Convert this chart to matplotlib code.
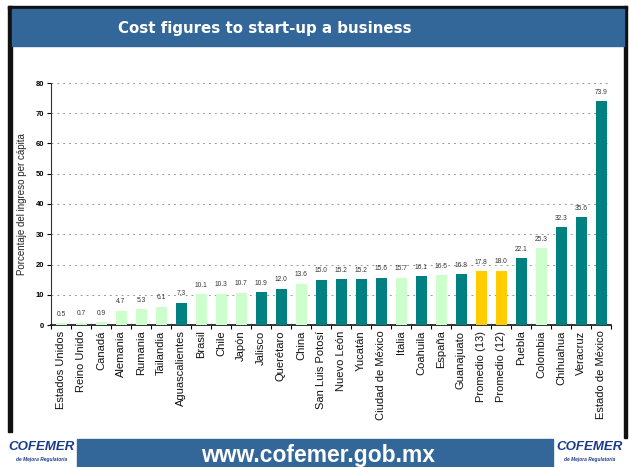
import matplotlib
matplotlib.use("Agg")
import matplotlib.pyplot as plt
from matplotlib.patches import Rectangle

categories = ["Estados Unidos", "Reino Unido", "Canadá", "Alemania", "Rumania", "Tailandia",
              "Aguascalientes", "Brasil", "Chile", "Japón", "Jalisco", "Querétaro", "China",
              "San Luis Potosí", "Nuevo León", "Yucatán", "Ciudad de México", "Italia",
              "Coahuila", "España", "Guanajuato", "Promedio (13)", "Promedio (12)", "Puebla",
              "Colombia", "Chihuahua", "Veracruz", "Estado de México"]
values = [0.5, 0.7, 0.9, 4.7, 5.3, 6.1, 7.3, 10.1, 10.3, 10.7, 10.9, 12.0, 13.6,
          15.0, 15.2, 15.2, 15.6, 15.7, 16.1, 16.5, 16.8, 17.8, 18.0, 22.1, 25.3,
          32.3, 35.6, 73.9]
# group: c = country (light green), s = Mexican state (teal), p = average (yellow)
groups = ["c", "c", "c", "c", "c", "c", "s", "c", "c", "c", "s", "s", "c",
          "s", "s", "s", "s", "c", "s", "c", "s", "p", "p", "s", "c", "s", "s", "s"]
yticks = [0, 10, 20, 30, 40, 50, 60, 70, 80]

palette = {"c": "#CCFFCC", "s": "#008080", "p": "#FFCC00"}
colors = [palette[g] for g in groups]

W, H = 629, 467
fig = plt.figure(figsize=(W / 100, H / 100), dpi=100)

def px(x0, y0, x1, y1):
    return (x0 / W, 1 - y1 / H, (x1 - x0) / W, (y1 - y0) / H)

# frame and title bar
for (x0, y0, x1, y1, c) in [(8, 6, 627, 9, "#111111"), (8, 6, 12, 432, "#111111"),
                             (624, 6, 627, 438, "#111111")]:
    l, b, w, h = px(x0, y0, x1, y1)
    fig.patches.append(Rectangle((l, b), w, h, transform=fig.transFigure, color=c, zorder=0))
l, b, w, h = px(12, 9, 624, 46)
fig.patches.append(Rectangle((l, b), w, h, transform=fig.transFigure, color="#336699", zorder=1))
fig.text(265 / W, 1 - 28 / H, "Cost figures to start-up a business", color="white",
         fontsize=10.8, fontweight="bold", family="DejaVu Sans", ha="center", va="center")

# footer
l, b, w, h = px(77, 439, 553, 470)
fig.patches.append(Rectangle((l, b), w, h, transform=fig.transFigure, color="#336699", zorder=1))
fig.text(318 / W, 1 - 462 / H, "www.cofemer.gob.mx", color="white", fontsize=16.5,
         fontweight="bold", family="Liberation Sans", ha="center", va="baseline")
for xc in [42, 590]:
    fig.text(xc / W, 1 - 447 / H, "COFEMER", color="#1a3a8a", fontsize=9.5,
             fontweight="bold", style="italic", family="Liberation Sans",
             ha="center", va="center")
    fig.text(xc / W, 1 - 460 / H, "de Mejora Regulatoria", color="#1a3a8a", fontsize=3.5,
             fontweight="bold", style="italic", family="Liberation Sans",
             ha="center", va="center")

# axes
ax = fig.add_axes(px(51, 83, 611, 325))
x = list(range(len(categories)))
ax.bar(x, values, width=0.55, color=colors, zorder=3)
ax.set_xlim(-0.5, len(categories) - 0.5)
ax.set_ylim(0, 80)
ax.set_yticks(yticks)
ax.set_yticklabels([str(t) for t in yticks], fontsize=5.5, fontweight="bold",
                   family="Liberation Sans")
ax.set_xticks([i - 0.5 for i in range(len(categories) + 1)], minor=False)
ax.set_xticklabels([""] * (len(categories) + 1))
ax.set_xticks(x, minor=True)
ax.set_xticklabels(categories, minor=True, rotation=90, fontsize=8,
                   family="Liberation Sans", color="#111111")
ax.tick_params(axis="x", which="minor", length=0, pad=4)
ax.tick_params(axis="x", which="major", length=3, width=0.8, direction="out")
ax.tick_params(axis="y", length=3, width=0.8, pad=2)
for s in ["top", "right"]:
    ax.spines[s].set_visible(False)
ax.spines["left"].set_color("#333333")
ax.spines["bottom"].set_color("#111111")
ax.spines["bottom"].set_linewidth(1.2)
ax.yaxis.grid(True, linestyle=(0, (2, 4)), color="#999999", linewidth=0.7, zorder=0)
ax.set_ylabel("Porcentaje del ingreso per cápita", fontsize=7, family="Liberation Sans",
              labelpad=6, color="#222222")

for xi, v in zip(x, values):
    ax.text(xi, v + 1.8, f"{v:.1f}", ha="center", va="bottom", fontsize=4.8,
            family="Liberation Sans", color="#333333")

fig.savefig("out.png", dpi=100)
